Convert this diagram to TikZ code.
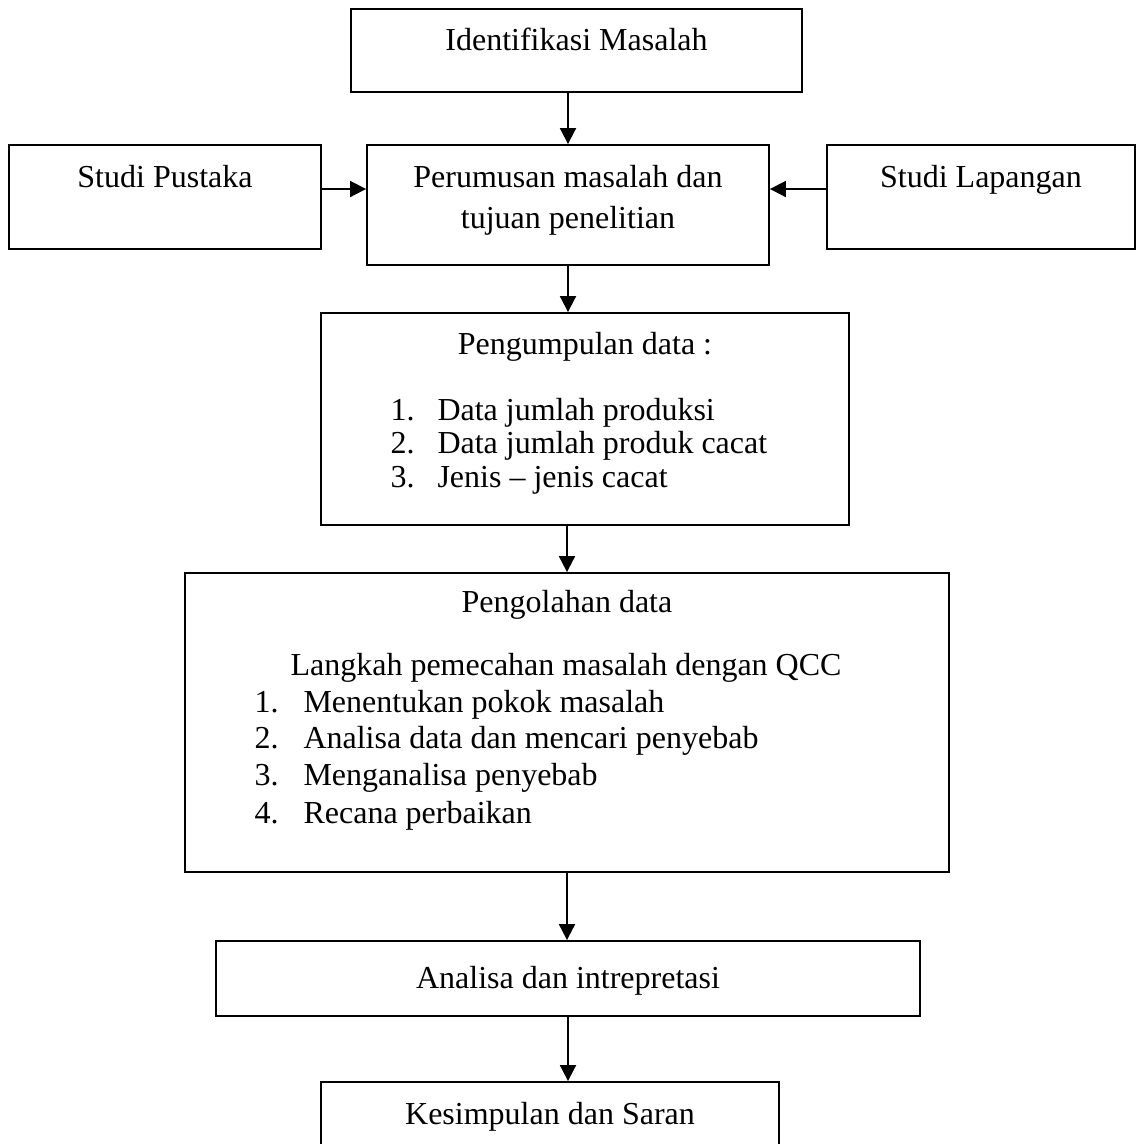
\documentclass[tikz,border=0pt]{standalone}
\usepackage{fontspec}
\setmainfont{Liberation Serif}
\usetikzlibrary{arrows.meta}

\begin{document}
\begin{tikzpicture}[x=0.375pt, y=-0.375pt,
  box/.style={draw, line width=0.7pt, inner sep=0pt},
  txt/.style={anchor=base, inner sep=0pt, font=\fontsize{12}{14}\selectfont},
  item/.style={txt, anchor=base west},
  arr/.style={line width=0.7pt, -{Triangle[length=6pt,width=6pt]}}]
\clip (0,0) rectangle (1136,1144);

% boxes
\node [box, minimum width=169.1pt, minimum height=31.1pt] (ident) at (576.5,50.5) {};
\node [box, minimum width=117pt, minimum height=39pt] (pustaka) at (165,197) {};
\node [box, minimum width=150.75pt, minimum height=45pt] (rumus) at (568,205) {};
\node [box, minimum width=115.5pt, minimum height=39pt] (lapangan) at (981,197) {};
\node [box, minimum width=198pt, minimum height=79.5pt] (kumpul) at (585,419) {};
\node [box, minimum width=286.5pt, minimum height=112.1pt] (olah) at (567,722.5) {};
\node [box, minimum width=264pt, minimum height=28.1pt] (analisa) at (568,978.5) {};
\node [box, minimum width=171.75pt, minimum height=26.25pt] (simpul) at (550,1117) {};

% texts
\node [txt] (identtxt) at (576.5,50) {Identifikasi Masalah};
\node [txt] (pustakatxt) at (165,187) {Studi Pustaka};
\node [txt] (lapangantxt) at (981,187) {Studi Lapangan};
\node [txt] (rumustxta) at (568,187) {Perumusan masalah dan};
\node [txt] (rumustxtb) at (568,228) {tujuan penelitian};

\node [txt] (kumpultxt) at (585,354) {Pengumpulan data :};
\node [item] (kumpulna) at (390,420) {1.};
\node [item] (kumpulta) at (437,420) {Data jumlah produksi};
\node [item] (kumpulnb) at (390,453.5) {2.};
\node [item] (kumpultb) at (437,453.5) {Data jumlah produk cacat};
\node [item] (kumpulnc) at (390,487) {3.};
\node [item] (kumpultc) at (437,487) {Jenis -- jenis cacat};

\node [txt] (olahtxt) at (567,612) {Pengolahan data};
\node [txt] (langkah) at (566,675) {Langkah pemecahan masalah dengan QCC};
\node [item] (olahna) at (254,712) {1.};
\node [item] (olahta) at (303,712) {Menentukan pokok masalah};
\node [item] (olahnb) at (254,748.5) {2.};
\node [item] (olahtb) at (303,748.5) {Analisa data dan mencari penyebab};
\node [item] (olahnc) at (254,785.5) {3.};
\node [item] (olahtc) at (303,785.5) {Menganalisa penyebab};
\node [item] (olahnd) at (254,823.5) {4.};
\node [item] (olahtd) at (303,823.5) {Recana perbaikan};

\node [txt] (analisatxt) at (568,988) {Analisa dan intrepretasi};
\node [txt] (simpultxt) at (550,1124) {Kesimpulan dan Saran};

% arrows
\draw [arr] (rumus |- ident.south) -- (rumus.north);
\draw [arr] ([yshift=3pt]pustaka.east) -- ([yshift=3pt]pustaka.east -| rumus.west);
\draw [arr] ([yshift=3pt]lapangan.west) -- ([yshift=3pt]lapangan.west -| rumus.east);
\draw [arr] (rumus.south) -- (rumus |- kumpul.north);
\draw [arr] (olah |- kumpul.south) -- (olah.north);
\draw [arr] (olah.south) -- (olah |- analisa.north);
\draw [arr] (analisa.south) -- (analisa |- simpul.north);
\end{tikzpicture}
\end{document}
